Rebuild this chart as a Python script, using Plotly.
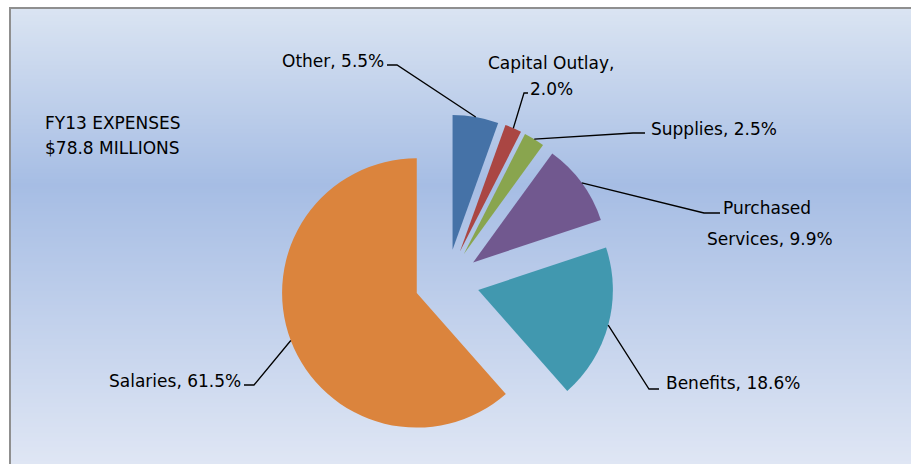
import math
import plotly.graph_objects as go

# ---- data ----
categories = ["Other", "Capital Outlay", "Supplies", "Purchased Services", "Benefits", "Salaries"]
shares = [5.5, 2.0, 2.5, 9.9, 18.6, 61.5]
label_lines = [
    ["Other, 5.5%"],
    ["Capital Outlay,", "2.0%"],
    ["Supplies, 2.5%"],
    ["Purchased", "Services, 9.9%"],
    ["Benefits, 18.6%"],
    ["Salaries, 61.5%"],
]
colors = ["#4572A7", "#AA4643", "#89A54E", "#71588F", "#4198AF", "#DB843D"]
title_lines = ["FY13 EXPENSES", "$78.8 MILLIONS"]

W, H = 911, 464
PULL = 0.24
CX, CY = 447.0, 281.5          # pie centre in px
OUTER = 167.0                  # half-size of pie domain in px (r*(1+pull))

FONT = "DejaVu Sans"
FS = 17

def px(x):
    return x / W

def py(y):
    return 1 - y / H

fig = go.Figure()
fig.add_trace(go.Pie(
    labels=categories, values=shares, sort=False, direction="clockwise", rotation=0,
    marker=dict(colors=colors, line=dict(width=0)),
    pull=[PULL] * len(shares), textinfo="none", hoverinfo="label+percent",
    domain=dict(x=[px(CX - OUTER), px(CX + OUTER)], y=[py(CY + OUTER), py(CY - OUTER)]),
    showlegend=False,
))

shapes = []
# gradient background bands
stops = [(9, (218, 228, 242)), (185, (166, 189, 228)), (464, (223, 230, 244))]

def col_at(y):
    for (y0, c0), (y1, c1) in zip(stops[:-1], stops[1:]):
        if y <= y1:
            t = max(0.0, min(1.0, (y - y0) / (y1 - y0)))
            return "rgb(%d,%d,%d)" % tuple(round(a + (b - a) * t) for a, b in zip(c0, c1))
    return "rgb(%d,%d,%d)" % stops[-1][1]

y = 9
while y < H:
    shapes.append(dict(type="rect", xref="paper", yref="paper", layer="below",
                       x0=px(10), x1=1.0, y0=py(min(y + 2.5, H)), y1=py(y),
                       fillcolor=col_at(y + 1), line=dict(width=0)))
    y += 2
# frame
shapes.append(dict(type="rect", xref="paper", yref="paper", layer="below",
                   x0=px(10), x1=px(W + 5), y0=py(H + 5), y1=py(8),
                   fillcolor="rgba(0,0,0,0)", line=dict(color="#8f8f8f", width=2)))

# leader lines: start at slice outer-arc midpoint (from data), go to elbow, then short tick
elbows = [((397, 65), (387, 65)), ((524, 93), (528, 93)), ((633, 133), (645, 133)),
          ((704, 213), (720, 213)), ((649, 389), (659, 389)), ((254, 385), (244, 385))]
total = sum(shares)
cum = 0.0
for v, (e1, e2) in zip(shares, elbows):
    mid = (cum + v / 2) / total * 2 * math.pi
    cum += v
    sx = CX + OUTER * math.sin(mid)
    sy = CY - OUTER * math.cos(mid)
    path = "M %f %f L %f %f L %f %f" % (px(sx), py(sy), px(e1[0]), py(e1[1]), px(e2[0]), py(e2[1]))
    shapes.append(dict(type="path", xref="paper", yref="paper", path=path,
                       line=dict(color="black", width=1.3)))

annotations = []

def add_text(text, x, y, anchor):
    annotations.append(dict(text=text, x=px(x), y=py(y), xref="paper", yref="paper",
                            xanchor=anchor, yanchor="middle", showarrow=False,
                            font=dict(family=FONT, size=FS, color="black")))

# label placements (px)
add_text(label_lines[0][0], 386, 61, "right")
add_text(label_lines[1][0], 551, 63, "center")
add_text(label_lines[1][1], 551, 89, "center")
add_text(label_lines[2][0], 649, 129, "left")
add_text(label_lines[3][0], 721, 208, "left")
add_text(label_lines[3][1], 705, 239, "left")
add_text(label_lines[4][0], 664, 383, "left")
add_text(label_lines[5][0], 243, 381, "right")
add_text(title_lines[0], 43, 123, "left")
add_text(title_lines[1], 43, 148, "left")

fig.update_layout(width=W, height=H, autosize=False,
                  margin=dict(l=0, r=0, t=0, b=0),
                  paper_bgcolor="white", plot_bgcolor="white",
                  shapes=shapes, annotations=annotations)

fig.write_html("out.html", config={"displayModeBar": False},
               post_script="document.body.style.margin='0px';document.body.style.overflow='hidden';")
